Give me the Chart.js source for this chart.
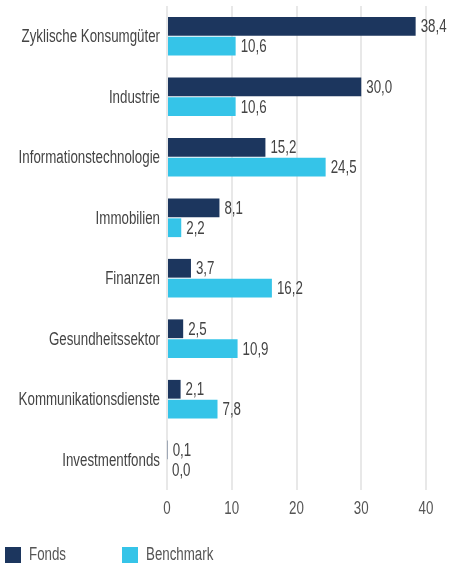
<!DOCTYPE html>
<html lang="de">
<head>
<meta charset="utf-8">
<title>Sektorallokation</title>
<script src="https://cdn.jsdelivr.net/npm/chart.js@4.4.1/dist/chart.umd.min.js"></script>
<style>
    html, body { margin: 0; padding: 0; background: #fff; }
    #wrap { position: relative; width: 451px; height: 565px; }
    #legend {
        position: absolute; left: 5px; top: 546px;
        font-family: "Liberation Sans", Arial, sans-serif;
        font-size: 18px; color: #555; display: flex;
    }
    #legend .item { display: flex; align-items: center; height: 17px; }
    #legend .box { width: 16px; height: 16px; margin-right: 8px; flex: none; }
    #legend .txt { display: inline-block; transform: scaleX(0.74); transform-origin: left center; white-space: nowrap; }
</style>
</head>
<body>
<div id="wrap">
    <canvas id="sectorChart" width="451" height="565"></canvas>
    <div id="legend"></div>
</div>
<script>
// Sektoren (Kategorien)
const categories = [
    'Zyklische Konsumgüter',
    'Industrie',
    'Informationstechnologie',
    'Immobilien',
    'Finanzen',
    'Gesundheitssektor',
    'Kommunikationsdienste',
    'Investmentfonds'
];

// Gewichtung in %
const fondsValues = [38.4, 30.0, 15.2, 8.1, 3.7, 2.5, 2.1, 0.1];
const benchmarkValues = [10.6, 10.6, 24.5, 2.2, 16.2, 10.9, 7.8, 0.0];

const seriesNames = ['Fonds', 'Benchmark'];
const seriesColors = ['#1c365e', '#35c4e8'];

const xTicks = [0, 10, 20, 30, 40];

const FONT = '18px "Liberation Sans", Arial, sans-serif';
const SQUEEZE = 0.74;   // Schmalschrift nachbilden

// Text horizontal gestaucht zeichnen
function narrowText(ctx, txt, x, y, align) {
    ctx.save();
    ctx.translate(x, y);
    ctx.scale(SQUEEZE, 1);
    ctx.textAlign = align;
    ctx.fillText(txt, 0, 0);
    ctx.restore();
}

const fmt = v => v.toFixed(1).replace('.', ',');

// Achsenbeschriftungen und Werte
const textLayer = {
    id: 'textLayer',
    afterDatasetsDraw(chart) {
        const ctx = chart.ctx;
        const xs = chart.scales.x;
        const ys = chart.scales.y;
        ctx.save();
        ctx.font = FONT;
        ctx.textBaseline = 'middle';

        // Kategorien links
        ctx.fillStyle = '#444';
        categories.forEach((c, i) => {
            narrowText(ctx, c, xs.left - 7, ys.getPixelForTick(i) + 1, 'right');
        });

        // Werte neben den Balken
        chart.data.datasets.forEach((ds, i) => {
            chart.getDatasetMeta(i).data.forEach((bar, j) => {
                narrowText(ctx, fmt(ds.data[j]), bar.x + 5, bar.y + 1, 'left');
            });
        });

        // x-Achse
        ctx.fillStyle = '#555';
        xTicks.forEach(v => {
            narrowText(ctx, String(v), xs.getPixelForValue(v), xs.bottom + 19, 'center');
        });
        ctx.restore();
    }
};

const chart = new Chart(document.getElementById('sectorChart'), {
    type: 'bar',
    data: {
        labels: categories,
        datasets: [
            {
                label: seriesNames[0],
                data: fondsValues,
                backgroundColor: seriesColors[0],
                barPercentage: 0.94,
                categoryPercentage: 0.66
            },
            {
                label: seriesNames[1],
                data: benchmarkValues,
                backgroundColor: seriesColors[1],
                barPercentage: 0.94,
                categoryPercentage: 0.66
            }
        ]
    },
    options: {
        indexAxis: 'y',
        responsive: false,
        animation: false,
        layout: {
            padding: { top: 6, right: 25, bottom: 75, left: 0 }
        },
        plugins: {
            legend: { display: false },
            tooltip: { enabled: false }
        },
        scales: {
            x: {
                min: 0,
                max: 40,
                afterBuildTicks(scale) {
                    scale.ticks = xTicks.map(v => ({ value: v }));
                },
                afterFit(scale) {
                    scale.height = 0;
                    scale.paddingLeft = 0;
                    scale.paddingRight = 0;
                },
                grid: {
                    color: '#e8e8e8',
                    lineWidth: 2,
                    drawTicks: false
                },
                border: { display: false },
                ticks: { display: false }
            },
            y: {
                grid: { display: false, drawTicks: false },
                border: { display: false },
                afterFit(scale) {
                    scale.width = 167;
                    scale.paddingTop = 0;
                    scale.paddingBottom = 0;
                },
                ticks: { display: false }
            }
        }
    },
    plugins: [textLayer]
});

// Legende
const legend = document.getElementById('legend');
seriesNames.forEach((name, i) => {
    const item = document.createElement('div');
    item.className = 'item';
    item.style.width = i === 0 ? '117px' : 'auto';
    item.innerHTML = '<span class="box" style="background:' + seriesColors[i] + '"></span><span class="txt">' + name + '</span>';
    legend.appendChild(item);
});
</script>
</body>
</html>
